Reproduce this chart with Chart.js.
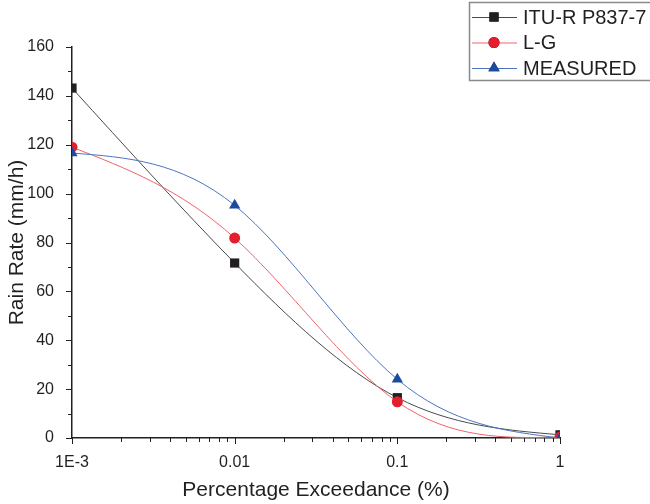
<!DOCTYPE html>
<html>
<head>
<meta charset="utf-8">
<script src="https://cdn.jsdelivr.net/npm/chart.js@4.4.0/dist/chart.umd.min.js"></script>
<style>
html,body{margin:0;padding:0;background:#fff;}
#wrap{width:650px;height:504px;position:relative;}
</style>
</head>
<body>
<div id="wrap"><canvas id="c" width="650" height="504"></canvas></div>
<script>
// ---- data ----
const exceedance = [0.001, 0.01, 0.1, 1];
const ituValues = [143.2, 71.6, 16.5, 1.3];
const lgValues = [119.0, 81.8, 14.8, 0.4];
const measuredValues = [116.6, 95.2, 24.0, 0.0];
const seriesNames = ['ITU-R P837-7', 'L-G', 'MEASURED'];
const xTickValues = [0.001, 0.01, 0.1, 1];
const xTickLabels = ['1E-3', '0.01', '0.1', '1'];
const yMin = 0, yMax = 160, yStep = 20;

const TXT = '#231f20';
const FONT = '"Liberation Sans", Arial, sans-serif';

function toXY(vals) { return exceedance.map((x, i) => ({x: x, y: vals[i]})); }

// natural cubic spline through the drawn points (pixel space), fed to Chart.js bezier control points
const naturalSpline = {
  id: 'naturalSpline',
  beforeDatasetDraw(chart, args) {
    const meta = args.meta;
    const line = meta.dataset;
    if (!line || !line.points) return;
    line.updateControlPoints(chart.chartArea, meta.indexAxis);
    const pts = line.points;
    const n = pts.length;
    if (n < 3) return;
    const h = [], x = pts.map(p => p.x), y = pts.map(p => p.y);
    for (let i = 0; i < n - 1; i++) h.push(x[i + 1] - x[i]);
    const M = new Array(n).fill(0);
    const m = n - 2;
    const a = [], b = [], c = [], d = [];
    for (let i = 1; i <= m; i++) {
      a.push(h[i - 1]); b.push(2 * (h[i - 1] + h[i])); c.push(h[i]);
      d.push(6 * ((y[i + 1] - y[i]) / h[i] - (y[i] - y[i - 1]) / h[i - 1]));
    }
    for (let i = 1; i < m; i++) {
      const w = a[i] / b[i - 1];
      b[i] -= w * c[i - 1]; d[i] -= w * d[i - 1];
    }
    const sol = new Array(m);
    sol[m - 1] = d[m - 1] / b[m - 1];
    for (let i = m - 2; i >= 0; i--) sol[i] = (d[i] - c[i] * sol[i + 1]) / b[i];
    for (let i = 1; i <= m; i++) M[i] = sol[i - 1];
    for (let i = 0; i < n; i++) {
      let dOut = null, dIn = null;
      if (i < n - 1) dOut = (y[i + 1] - y[i]) / h[i] - h[i] * (2 * M[i] + M[i + 1]) / 6;
      if (i > 0) dIn = (y[i] - y[i - 1]) / h[i - 1] + h[i - 1] * (M[i - 1] + 2 * M[i]) / 6;
      const p = pts[i];
      if (dOut !== null) { p.cp2x = x[i] + h[i] / 3; p.cp2y = y[i] + dOut * h[i] / 3; }
      else { p.cp2x = x[i]; p.cp2y = y[i]; }
      if (dIn !== null) { p.cp1x = x[i] - h[i - 1] / 3; p.cp1y = y[i] - dIn * h[i - 1] / 3; }
      else { p.cp1x = x[i]; p.cp1y = y[i]; }
    }
  }
};

// outward tick marks (major + minor) along both axes
const axisTicks = {
  id: 'axisTicks',
  afterDraw(chart) {
    const ctx = chart.ctx, ca = chart.chartArea;
    const xs = chart.scales.x, ys = chart.scales.y;
    ctx.save();
    ctx.strokeStyle = TXT; ctx.lineWidth = 1;
    ctx.beginPath();
    for (let v = yMin; v <= yMax + 1e-9; v += yStep / 2) {
      const py = Math.round(ys.getPixelForValue(v)) + 0.5;
      const len = (Math.abs(v / yStep - Math.round(v / yStep)) < 1e-9) ? 6 : 4;
      ctx.moveTo(ca.left - len, py); ctx.lineTo(ca.left, py);
    }
    const lo = Math.round(Math.log10(xs.min)), hi = Math.round(Math.log10(xs.max));
    for (let k = lo; k <= hi; k++) {
      for (let mlt = 1; mlt <= 9; mlt++) {
        const v = mlt * Math.pow(10, k);
        if (v > xs.max * 1.0001) break;
        const px = Math.round(xs.getPixelForValue(v)) + 0.5;
        const len = mlt === 1 ? 6 : 4;
        ctx.moveTo(px, ca.bottom); ctx.lineTo(px, ca.bottom + len);
      }
    }
    ctx.stroke();
    ctx.restore();
  }
};

// boxed legend at top-right
const boxLegend = {
  id: 'boxLegend',
  afterDraw(chart) {
    const ctx = chart.ctx;
    ctx.save();
    ctx.strokeStyle = '#8a8a8a'; ctx.lineWidth = 1.5;
    ctx.strokeRect(469.5, 2.5, 200, 78);
    ctx.font = '20px ' + FONT;
    ctx.fillStyle = TXT;
    ctx.textBaseline = 'middle';
    chart.data.datasets.forEach((ds, i) => {
      const yy = 17 + i * 25.5;
      ctx.beginPath();
      ctx.strokeStyle = ds.borderColor; ctx.lineWidth = 1;
      ctx.moveTo(472, yy + 0.5); ctx.lineTo(517, yy + 0.5); ctx.stroke();
      Chart.helpers.drawPoint(ctx, {
        pointStyle: ds.pointStyle, radius: ds.pointRadius, rotation: 0, borderWidth: 0
      }, 494, yy);
      ctx.fillStyle = ds.pointBackgroundColor;
      ctx.fill();
      ctx.fillStyle = TXT;
      ctx.fillText(ds.label, 523, yy + 1);
    });
    ctx.restore();
  }
};

new Chart(document.getElementById('c'), {
  type: 'line',
  data: {
    datasets: [
      { label: seriesNames[0], data: toXY(ituValues), borderColor: '#4a4a4a', borderWidth: 1,
        pointStyle: 'rect', pointRadius: 6.5, pointBackgroundColor: '#231f20', pointBorderWidth: 0,
        tension: 0.4, order: 3 },
      { label: seriesNames[1], data: toXY(lgValues), borderColor: '#f0636b', borderWidth: 1,
        pointStyle: 'circle', pointRadius: 5.5, pointBackgroundColor: '#e41f2d', pointBorderWidth: 0,
        tension: 0.4, order: 2 },
      { label: seriesNames[2], data: toXY(measuredValues), borderColor: '#4d74bf', borderWidth: 1,
        pointStyle: 'triangle', pointRadius: 6.5, pointBackgroundColor: '#1c4b9e', pointBorderWidth: 0,
        tension: 0.4, order: 1 }
    ]
  },
  options: {
    responsive: false,
    animation: false,
    layout: { padding: { left: 0, top: 47, right: 90, bottom: 0 } },
    plugins: { legend: { display: false }, tooltip: { enabled: false } },
    scales: {
      x: {
        type: 'logarithmic', min: xTickValues[0], max: xTickValues[xTickValues.length - 1],
        afterBuildTicks: s => { s.ticks = xTickValues.map(v => ({ value: v })); },
        afterFit: s => { s.height = 66; },
        grid: { display: false },
        border: { display: true, color: TXT, width: 1.5 },
        ticks: { autoSkip: false, maxRotation: 0, padding: 7, color: TXT,
          font: { family: FONT, size: 16 },
          callback: (v, idx) => xTickLabels[idx] },
        title: { display: true, text: 'Percentage Exceedance (%)', color: TXT,
          font: { family: FONT, size: 21 }, padding: { top: 0, bottom: 1 } }
      },
      y: {
        min: yMin, max: yMax,
        afterFit: s => { s.width = 72; },
        grid: { display: false },
        border: { display: true, color: TXT, width: 1.5 },
        ticks: { stepSize: yStep, padding: 10, color: TXT, font: { family: FONT, size: 16 } },
        title: { display: true, text: 'Rain Rate (mm/h)', color: TXT,
          font: { family: FONT, size: 21 }, padding: { top: 5, bottom: 0 } }
      }
    }
  },
  plugins: [naturalSpline, axisTicks, boxLegend]
});
</script>
</body>
</html>
